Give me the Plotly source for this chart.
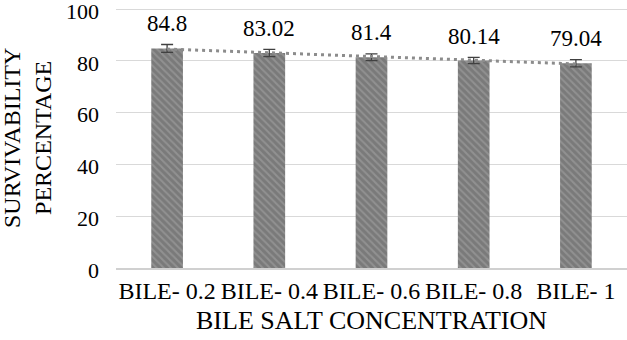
import numpy as np
import plotly.graph_objects as go

categories = ["BILE- 0.2", "BILE- 0.4", "BILE- 0.6", "BILE- 0.8", "BILE- 1"]
survival = [84.8, 83.02, 81.4, 80.14, 79.04]
errors = [1.5, 1.4, 1.3, 1.2, 1.4]
y_ticks = [0, 20, 40, 60, 80, 100]

font_family = "Liberation Serif"

xi = np.arange(len(categories))
slope, intercept = np.polyfit(xi, survival, 1)
trend = [slope * i + intercept for i in xi]

fig = go.Figure()
fig.add_trace(go.Bar(
    x=categories, y=survival,
    width=0.31,
    marker=dict(color="#7f7f7f", line=dict(width=0),
                pattern=dict(shape="\\", fgcolor="#a8a8a8", bgcolor="#7a7a7a", size=5, solidity=0.4)),
    error_y=dict(type="data", array=errors, visible=True, color="#404040", thickness=1.3, width=6),
    hoverinfo="skip",
))
fig.add_trace(go.Scatter(
    x=categories, y=trend, mode="lines",
    line=dict(color="#8c8c8c", width=3, dash="3px,4px"),
    hoverinfo="skip",
))
for c, v, e in zip(categories, survival, errors):
    fig.add_annotation(x=c, y=v + e, text=f"{v:g}", showarrow=False,
                       yanchor="middle", yshift=21,
                       font=dict(family=font_family, size=23, color="#000"))

# axis titles
fig.add_annotation(xref="paper", yref="paper", x=0.5, y=0, text="BILE SALT CONCENTRATION",
                   showarrow=False, yanchor="middle", yshift=-52,
                   font=dict(family=font_family, size=26, color="#000"))
fig.add_annotation(xref="paper", yref="paper", x=0, y=0.5, text="SURVIVABILITY<br>PERCENTAGE",
                   showarrow=False, xanchor="center", yanchor="middle", xshift=-89, textangle=-90,
                   font=dict(family=font_family, size=24, color="#000"))

fig.update_layout(
    width=627, height=340,
    margin=dict(l=116, r=0, t=8, b=72, autoexpand=False),
    paper_bgcolor="white", plot_bgcolor="white",
    showlegend=False,
    bargap=0.69,
    font=dict(family=font_family, size=23, color="#000"),
    xaxis=dict(showline=True, linecolor="#d0d0d0", linewidth=2, ticks="", automargin=False,
               tickangle=0, tickfont=dict(size=24)),
    yaxis=dict(range=[0, 100.4], tickvals=y_ticks, showgrid=True, gridcolor="#d9d9d9", gridwidth=1.3,
               zeroline=False, ticks="", automargin=False, ticklabeloverflow="allow",
               ticklabelshift=2, ticklabelstandoff=16,
               tickfont=dict(size=22)),
)
fig.write_html("out.html", config={"displayModeBar": False},
               post_script="document.body.style.margin='0';")
